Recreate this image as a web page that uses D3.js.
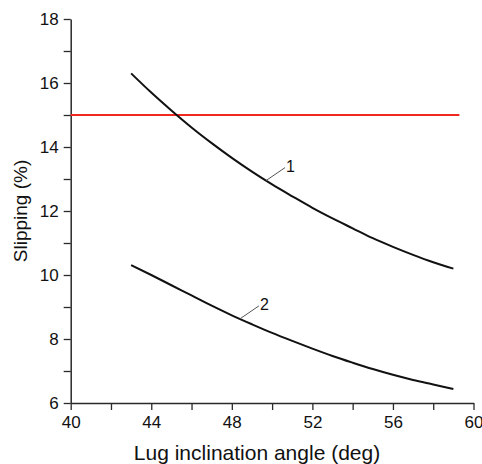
<!DOCTYPE html>
<html>
<head>
<meta charset="utf-8">
<script src="https://cdn.jsdelivr.net/npm/d3@7"></script>
<style>
  body { margin: 0; background: #fff; }
  text { font-family: "Liberation Sans", Arial, sans-serif; }
</style>
</head>
<body>
<div id="chart"></div>
<script>
// data
const angles = [43, 44, 45, 46, 47, 48, 49, 50, 51, 52, 53, 54, 55, 56, 57, 58, 59];
const slip1 = [16.30, 15.70, 15.14, 14.61, 14.12, 13.66, 13.23, 12.83, 12.46, 12.10, 11.77, 11.46, 11.15, 10.88, 10.63, 10.40, 10.20];
const slip2 = [10.31, 10.00, 9.68, 9.36, 9.04, 8.74, 8.46, 8.19, 7.94, 7.70, 7.47, 7.26, 7.06, 6.88, 6.72, 6.58, 6.44];
const seriesNames = ['1', '2'];
const labelAt = [49.7, 48.4];   // angle where each label's leader touches the curve
const limitValue = 15;
const limitRange = [40, 59.3];
const xTicks = [40, 42, 44, 46, 48, 50, 52, 54, 56, 58, 60];
const yTicks = [6, 7, 8, 9, 10, 11, 12, 13, 14, 15, 16, 17, 18];

const width = 482, height = 464;
const svg = d3.select('#chart').append('svg')
    .attr('width', width)
    .attr('height', height);

const x = d3.scaleLinear().domain([40, 60]).range([70.7, 473.5]);
const y = d3.scaleLinear().domain([6, 18]).range([403, 19]);

// axes
const xAxis = d3.axisBottom(x)
    .tickValues(xTicks)
    .tickSize(7)
    .tickSizeOuter(0)
    .tickPadding(6)
    .tickFormat(d => d % 4 === 0 ? d : '');
const yAxis = d3.axisLeft(y)
    .tickValues(yTicks)
    .tickSize(7)
    .tickSizeOuter(0)
    .tickPadding(5)
    .tickFormat(d => d % 2 === 0 ? d : '');

const gx = svg.append('g').attr('transform', `translate(0,${y(6)})`).call(xAxis);
const gy = svg.append('g').attr('transform', `translate(${x(40)},0)`).call(yAxis);
[gx, gy].forEach(g => {
    g.select('.domain').attr('stroke', '#2a2a2a').attr('stroke-width', 1.5);
    g.selectAll('.tick line').attr('stroke', '#2a2a2a').attr('stroke-width', 1.3);
    g.selectAll('.tick text').attr('fill', '#111').style('font-size', '17px');
});

svg.append('text')
    .attr('x', 257)
    .attr('y', 460)
    .attr('text-anchor', 'middle')
    .style('font-size', '21px')
    .attr('fill', '#111')
    .text('Lug inclination angle (deg)');

svg.append('text')
    .attr('transform', `translate(27,${(y(6) + y(18)) / 2}) rotate(-90)`)
    .attr('text-anchor', 'middle')
    .style('font-size', '19px')
    .attr('fill', '#111')
    .text('Slipping (%)');

// limit line
svg.append('line')
    .attr('x1', x(limitRange[0]))
    .attr('x2', x(limitRange[1]))
    .attr('y1', y(limitValue))
    .attr('y2', y(limitValue))
    .attr('stroke', '#f0281e')
    .attr('stroke-width', 2);

// curves
const line = d3.line()
    .x(d => x(d[0]))
    .y(d => y(d[1]))
    .curve(d3.curveMonotoneX);

[slip1, slip2].forEach((vals, i) => {
    const pts = angles.map((a, j) => [a, vals[j]]);
    svg.append('path')
        .datum(pts)
        .attr('d', line)
        .attr('fill', 'none')
        .attr('stroke', '#111')
        .attr('stroke-width', 2);

    // leader + label
    const interp = d3.scaleLinear().domain(angles).range(vals);
    const px = x(labelAt[i]);
    const py = y(interp(labelAt[i]));
    svg.append('line')
        .attr('x1', px).attr('y1', py)
        .attr('x2', px + 19).attr('y2', py - 13)
        .attr('stroke', '#555')
        .attr('stroke-width', 1);
    svg.append('text')
        .attr('x', px + 20)
        .attr('y', py - 9)
        .style('font-size', '16px')
        .attr('fill', '#111')
        .text(seriesNames[i]);
});
</script>
</body>
</html>
